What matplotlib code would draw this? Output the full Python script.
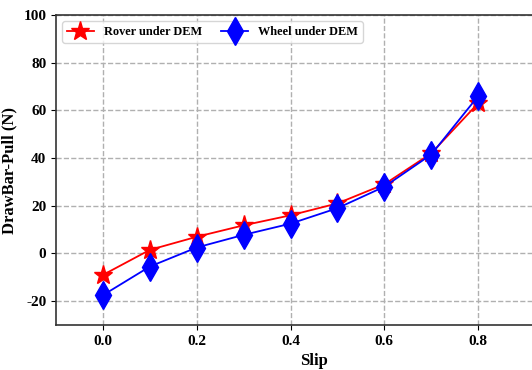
import matplotlib
matplotlib.use("Agg")
import matplotlib.pyplot as plt

plt.rcParams['font.family'] = ['Liberation Serif', 'DejaVu Serif']
plt.rcParams['font.weight'] = 'bold'

slip = [0.0, 0.1, 0.2, 0.3, 0.4, 0.5, 0.6, 0.7, 0.8]
rover = [-9, 1.5, 7, 11.8, 16, 21, 29, 42, 63]
wheel = [-17.5, -5.5, 2.5, 7.8, 12.5, 19, 28, 41.5, 66]
xticks = [0.0, 0.2, 0.4, 0.6, 0.8]
yticks = [-20, 0, 20, 40, 60, 80, 100]

fig = plt.figure(figsize=(5.32, 3.70), dpi=100)
ax = fig.add_axes([56/532, 45/370, 516/532, 310/370])

ax.plot(slip, rover, color='red', marker='*', markersize=14, linewidth=1.3, label='Rover under DEM')
ax.plot(slip, wheel, color='blue', marker='d', markersize=14, linewidth=1.3, label='Wheel under DEM')

ax.set_xlim(-0.1, 1.0)
ax.set_ylim(-30, 100)
ax.set_xticks(xticks)
ax.set_yticks(yticks)
ax.set_xticklabels([f"{t:.1f}" for t in xticks], fontweight='bold', fontsize=11)
ax.set_yticklabels([str(t) for t in yticks], fontweight='bold', fontsize=11)
ax.set_xlabel('Slip', fontweight='bold', fontsize=12)
ax.set_ylabel('DrawBar-Pull (N)', fontweight='bold', fontsize=12)
ax.grid(True, linestyle='--', color='#b0b0b0', linewidth=1)
for s in ax.spines.values():
    s.set_linewidth(1.2)
    s.set_color('#333333')

leg = ax.legend(loc='upper left', ncol=2, prop={'weight': 'bold', 'size': 8.8}, columnspacing=1.6,
                handlelength=2.2, fancybox=True, framealpha=0.8, borderpad=0.4)

fig.savefig('out.png', dpi=100)
